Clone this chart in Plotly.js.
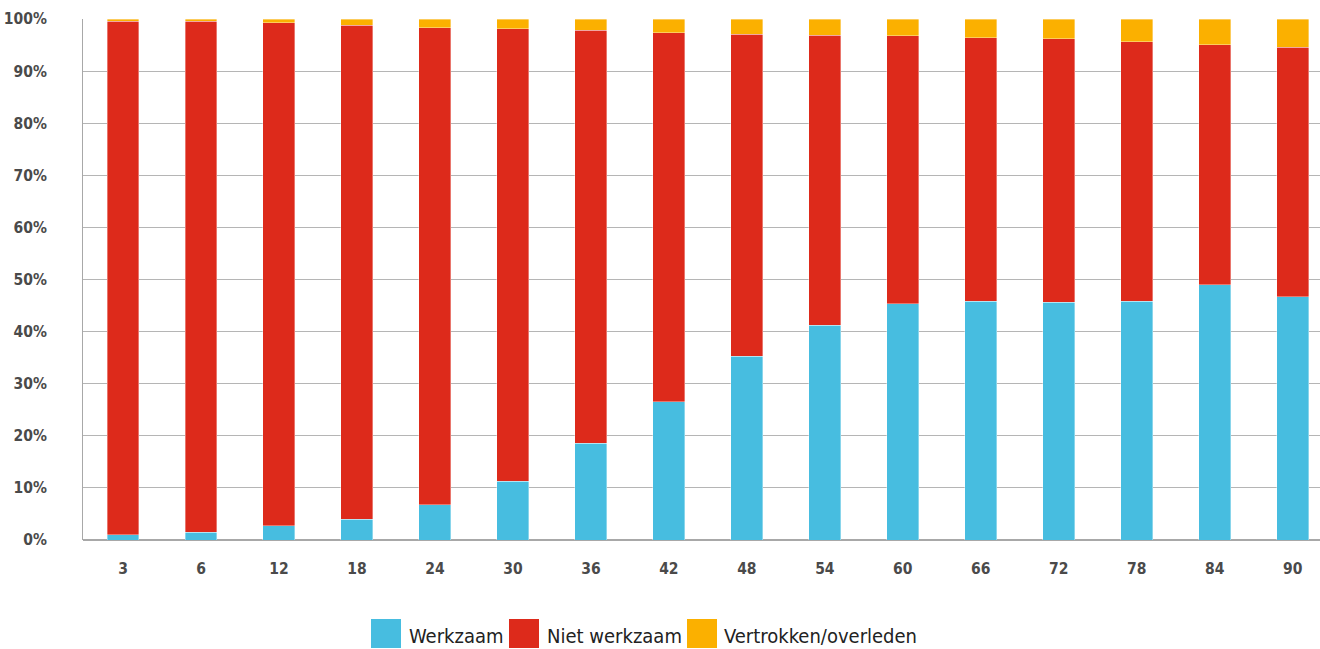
<!DOCTYPE html>
<html>
<head>
<meta charset="utf-8">
<script src="https://cdn.plot.ly/plotly-3.0.1.min.js"></script>
<style>html,body{margin:0;padding:0;background:#fff;}#chart{width:1320px;height:649px;}</style>
</head>
<body>
<div id="chart"></div>
<script>
const categories = ['3','6','12','18','24','30','36','42','48','54','60','66','72','78','84','90'];
const werkzaam   = [1.0, 1.5, 2.7, 4.0, 6.8, 11.3, 18.6, 26.5, 35.3, 41.2, 45.3, 45.8, 45.6, 45.8, 49.0, 46.7];
const nietWerkzaam = [98.6, 98.1, 96.6, 94.8, 91.5, 86.8, 79.2, 70.9, 61.8, 55.7, 51.5, 50.6, 50.6, 49.8, 46.1, 47.9];
const vertrokken = [0.4, 0.4, 0.7, 1.2, 1.7, 1.9, 2.2, 2.6, 2.9, 3.1, 3.2, 3.6, 3.8, 4.4, 4.9, 5.4];
const seriesNames = ['Werkzaam', 'Niet werkzaam', 'Vertrokken/overleden'];
const yTicks = [0,10,20,30,40,50,60,70,80,90,100];
const yTickText = yTicks.map(v => v + '%');

const colors = ['#47BDE0', '#DD2A1B', '#FBB000'];
const tickFont = {family: 'DejaVu Sans Condensed, DejaVu Sans, sans-serif', size: 15.5, color: '#4a4a4a', weight: 'bold'};

const data = [werkzaam, nietWerkzaam, vertrokken].map((vals, i) => ({
  type: 'bar',
  x: categories,
  y: vals,
  name: seriesNames[i],
  width: 0.41,
  marker: {color: colors[i], line: {color: 'rgba(255,255,255,0.6)', width: 0.6}},
  showlegend: false,
  hoverinfo: 'x+y+name'
}));

// custom legend (swatch + label) in paper coordinates
const plotL = 83, plotR = 1320, plotT = 19, plotB = 540;
const px = v => (v - plotL) / (plotR - plotL);
const py = v => (plotB - v) / (plotB - plotT);
const legendItems = [
  {x0: 371, tx: 407},
  {x0: 509, tx: 545},
  {x0: 687, tx: 722}
];
const shapes = legendItems.map((it, i) => ({
  type: 'rect', xref: 'paper', yref: 'paper',
  x0: px(it.x0), x1: px(it.x0 + 30), y0: py(619), y1: py(648),
  fillcolor: colors[i], line: {width: 0}
}));
const annotations = legendItems.map((it, i) => ({
  xref: 'paper', yref: 'paper', x: px(it.tx), y: py(636),
  xanchor: 'left', yanchor: 'middle', showarrow: false,
  text: seriesNames[i],
  font: {family: 'DejaVu Sans Condensed, DejaVu Sans, sans-serif', size: 20, color: '#222'}
}));

const layout = {
  width: 1320, height: 649,
  margin: {l: plotL, r: 0, t: plotT, b: 649 - plotB, pad: 0},
  paper_bgcolor: '#fff', plot_bgcolor: '#fff',
  barmode: 'stack',
  bargap: 0.5,
  xaxis: {
    type: 'category',
    range: [-0.513, 15.35],
    showgrid: false,
    showline: false,
    zeroline: false,
    ticks: 'outside', ticklen: 14, tickcolor: 'rgba(0,0,0,0)',
    tickfont: tickFont,
    fixedrange: true
  },
  yaxis: {
    range: [0, 100],
    tickvals: yTicks,
    ticktext: yTickText,
    showgrid: true, gridcolor: '#b5b5b5', gridwidth: 1,
    showline: true, linecolor: '#a8a8a8', linewidth: 1,
    zeroline: true, zerolinecolor: '#a8a8a8', zerolinewidth: 1.5,
    ticks: 'outside', ticklen: 32, tickcolor: 'rgba(0,0,0,0)',
    tickfont: tickFont,
    fixedrange: true
  },
  shapes: shapes,
  annotations: annotations
};

Plotly.newPlot('chart', data, layout, {displayModeBar: false});
</script>
</body>
</html>
